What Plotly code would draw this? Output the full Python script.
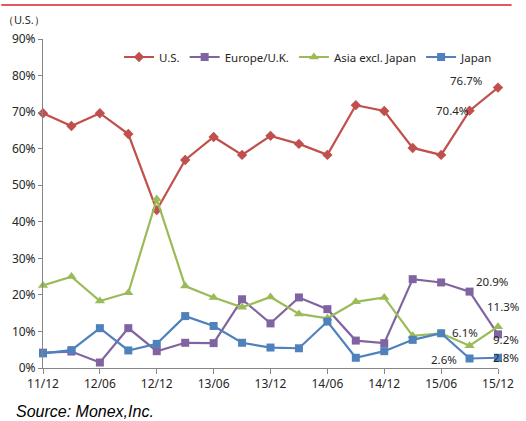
import plotly.graph_objects as go

periods = ["11/12", "12/03", "12/06", "12/09", "12/12", "13/03", "13/06", "13/09",
           "13/12", "14/03", "14/06", "14/09", "14/12", "15/03", "15/06", "15/09", "15/12"]
tick_labels = ["11/12", "12/06", "12/12", "13/06", "13/12", "14/06", "14/12", "15/06", "15/12"]

us = [69.7, 66.2, 69.7, 64.0, 43.2, 56.9, 63.2, 58.3, 63.5, 61.3, 58.3, 71.9, 70.3, 60.2, 58.3, 70.4, 76.7]
europe = [4.2, 4.5, 1.5, 10.9, 4.6, 6.9, 6.8, 18.8, 12.2, 19.3, 16.1, 7.5, 6.8, 24.3, 23.4, 20.9, 9.2]
asia = [22.6, 25.0, 18.3, 20.6, 46.2, 22.4, 19.3, 16.6, 19.4, 14.8, 13.6, 18.1, 19.3, 8.8, 9.5, 6.1, 11.3]
japan = [4.0, 4.9, 10.9, 4.8, 6.6, 14.2, 11.5, 6.9, 5.6, 5.4, 12.7, 2.8, 4.6, 7.7, 9.5, 2.6, 2.8]

FONT = "Noto Sans, Open Sans, sans-serif"
TEXT = "#262626"
AXIS = "#868686"

x = list(range(len(periods)))
series = [
    ("U.S.", us, "#C0504D", "diamond", 8),
    ("Europe/U.K.", europe, "#8064A2", "square", 8),
    ("Asia excl. Japan", asia, "#9BBB59", "triangle-up", 9),
    ("Japan", japan, "#4F81BD", "square", 8),
]

fig = go.Figure()
for name, vals, color, sym, size in series:
    fig.add_trace(go.Scatter(
        x=x, y=vals, name=name, mode="lines+markers",
        line=dict(color=color, width=2.2),
        marker=dict(symbol=sym, size=size, color=color),
        cliponaxis=False,
        hovertemplate="%{y:.1f}%<extra>" + name + "</extra>",
    ))

# value labels on the last two periods: (series values, index, xanchor, xshift, yshift)
label_specs = [
    (us, 16, "right", -14, 7),
    (us, 15, "right", 0, 0),
    (europe, 15, "left", 4, 10),
    (europe, 16, "left", -7, -5),
    (asia, 15, "center", -5, 13),
    (asia, 16, "left", -13, 20),
    (japan, 15, "right", -11, -1),
    (japan, 16, "left", -7, 0),
]
for vals, i, xa, xs, ys in label_specs:
    fig.add_annotation(
        x=i, y=vals[i], text=f"{vals[i]:.1f}%", showarrow=False,
        xanchor=xa, yanchor="middle", xshift=xs, yshift=ys,
        font=dict(family=FONT, size=11.5, color=TEXT),
    )

# unit caption and source note
fig.add_annotation(
    xref="paper", yref="paper", x=-43 / 469, y=(368 - 20) / 329,
    xanchor="left", yanchor="middle", text="（U.S.）", showarrow=False,
    font=dict(family=FONT, size=11, color=TEXT),
)
fig.add_annotation(
    xref="paper", yref="paper", x=-30 / 469, y=(368 - 412) / 329,
    xanchor="left", yanchor="middle", text="<i>Source: Monex,Inc.</i>", showarrow=False,
    font=dict(family="Liberation Sans, Arial, sans-serif", size=16, color="#000000"),
)

# red rule across the top
fig.add_shape(
    type="line", xref="paper", yref="paper",
    x0=-43 / 469, x1=(526 - 43) / 469, y0=(368 - 5) / 329, y1=(368 - 5) / 329,
    line=dict(color="#E8555F", width=2),
)

fig.update_layout(
    width=526, height=421,
    margin=dict(l=43, r=14, t=39, b=53),
    paper_bgcolor="white", plot_bgcolor="white",
    font=dict(family=FONT, size=12, color=TEXT),
    showlegend=True,
    legend=dict(
        orientation="h", x=1.0, y=(368 - 57) / 329,
        xanchor="right", yanchor="middle", bgcolor="rgba(0,0,0,0)",
        font=dict(family=FONT, size=11.5, color=TEXT),
        itemwidth=30, tracegroupgap=0,
    ),
    xaxis=dict(
        range=[0, 16], tickmode="array",
        tickvals=[periods.index(t) for t in tick_labels], ticktext=tick_labels,
        showgrid=False, zeroline=False, showline=True, linecolor=AXIS, linewidth=1,
        ticks="outside", ticklen=5, tickcolor=AXIS, ticklabeloverflow="allow",
        tickfont=dict(family=FONT, size=12, color=TEXT),
    ),
    yaxis=dict(
        range=[0, 90], tickvals=list(range(0, 91, 10)),
        ticktext=[f"{v}%" for v in range(0, 91, 10)],
        showgrid=False, zeroline=False, showline=True, linecolor=AXIS, linewidth=1,
        ticks="outside", ticklen=4, tickcolor=AXIS,
        tickfont=dict(family=FONT, size=12, color=TEXT),
    ),
)

fig.write_html("out.html")
